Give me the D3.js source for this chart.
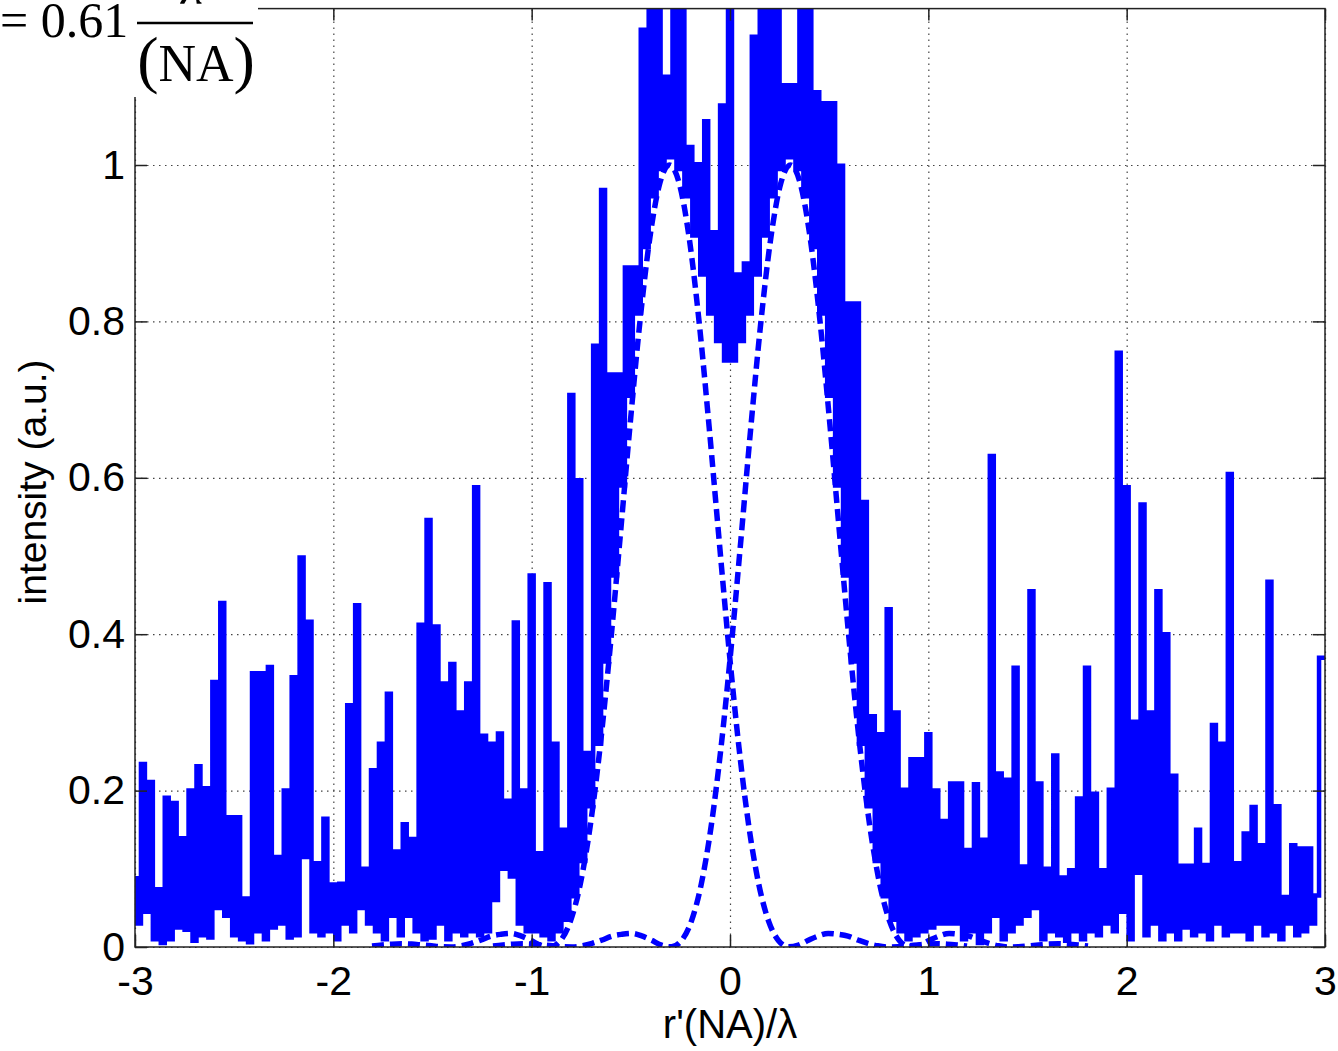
<!DOCTYPE html>
<html>
<head>
<meta charset="utf-8">
<script src="https://cdn.jsdelivr.net/npm/d3@7"></script>
<style>
  body { margin: 0; background: #fff; }
  svg { display: block; }
  .tick text { font-family: "Liberation Sans", Arial, sans-serif; fill: #000; }
</style>
</head>
<body>
<svg id="chart" width="1338" height="1051"></svg>
<script>
const xTicks = [-3, -2, -1, 0, 1, 2, 3];
const yTicks = [0, 0.2, 0.4, 0.6, 0.8, 1];

// measured intensity: local maxima every 0.04 from x = -3, minima halfway between
const peakVals = [
  0.088, 0.234, 0.211, 0.074, 0.191, 0.184, 0.139, 0.2, 0.231, 0.203,
  0.339, 0.44, 0.166, 0.166, 0.062, 0.35, 0.35, 0.358, 0.115, 0.2,
  0.345, 0.498, 0.416, 0.107, 0.164, 0.08, 0.081, 0.309, 0.437, 0.1,
  0.226, 0.26, 0.324, 0.122, 0.157, 0.138, 0.412, 0.546, 0.41, 0.337,
  0.362, 0.3, 0.337, 0.588, 0.27, 0.26, 0.273, 0.187, 0.415, 0.2,
  0.475, 0.12, 0.464, 0.26, 0.15, 0.706, 0.597, 0.248, 0.769, 0.968,
  0.732, 0.732, 0.869, 0.869, 1.173, 1.25, 1.25, 1.113, 1.25, 1.25,
  1.023, 1.001, 1.056, 0.914, 1.076, 1.25, 0.86, 0.874, 1.164, 1.25,
  1.25, 1.25, 1.102, 1.102, 1.25, 1.25, 1.093, 1.079, 1.079, 0.999,
  0.823, 0.823, 0.569, 0.295, 0.272, 0.432, 0.3, 0.201, 0.24, 0.24,
  0.272, 0.2, 0.161, 0.209, 0.209, 0.124, 0.208, 0.137, 0.628, 0.222,
  0.214, 0.357, 0.103, 0.455, 0.209, 0.1, 0.245, 0.089, 0.098, 0.19,
  0.357, 0.196, 0.098, 0.201, 0.76, 0.588, 0.288, 0.566, 0.3, 0.455,
  0.40, 0.219, 0.104, 0.104, 0.15, 0.105, 0.284, 0.26, 0.605, 0.107,
  0.145, 0.179, 0.13, 0.467, 0.18, 0.064, 0.13, 0.126, 0.126, 0.066,
  0.37
];
const troughVals = [
  0.03, 0.045, 0.01, 0.005, 0.01, 0.025, 0.022, 0.008, 0.015, 0.012,
  0.05, 0.04, 0.015, 0.01, 0.006, 0.02, 0.01, 0.025, 0.03, 0.012,
  0.015, 0.115, 0.02, 0.015, 0.02, 0.01, 0.03, 0.02, 0.05, 0.03,
  0.02, 0.01, 0.04, 0.015, 0.04, 0.02, 0.01, 0.012, 0.03, 0.01,
  0.02, 0.015, 0.02, 0.015, 0.02, 0.06, 0.1, 0.09, 0.03, 0.02,
  0.02, 0.015, 0.01, 0.02, 0.035, 0.065, 0.11, 0.18, 0.26, 0.365,
  0.475, 0.59, 0.705, 0.81, 0.895, 0.96, 0.995, 1.01, 0.995, 0.96,
  0.91, 0.86, 0.81, 0.775, 0.75, 0.75, 0.775, 0.81, 0.86, 0.91,
  0.96, 0.995, 1.01, 0.995, 0.96, 0.895, 0.81, 0.705, 0.59, 0.475,
  0.365, 0.26, 0.18, 0.11, 0.065, 0.035, 0.02, 0.01, 0.015, 0.02,
  0.025, 0.03, 0.03, 0.03, 0.01, 0.02, 0.005, 0.02, 0.04, 0.01,
  0.02, 0.03, 0.04, 0.05, 0.01, 0.02, 0.015, 0.008, 0.02, 0.01,
  0.02, 0.015, 0.03, 0.02, 0.045, 0.01, 0.095, 0.015, 0.03, 0.01,
  0.02, 0.01, 0.025, 0.015, 0.02, 0.01, 0.03, 0.015, 0.02, 0.02,
  0.01, 0.03, 0.015, 0.02, 0.01, 0.03, 0.015, 0.02, 0.03, 0.37
];

// Airy profile of one point image, distance from centre in units of lambda/NA
const airyR = [
  0, 0.05, 0.1, 0.15, 0.2, 0.25, 0.3, 0.35, 0.4, 0.45, 0.5,
  0.55, 0.6, 0.65, 0.7, 0.75, 0.8, 0.85, 0.9, 0.95, 1.0,
  1.05, 1.1, 1.15, 1.2, 1.25, 1.3, 1.35, 1.4, 1.45, 1.5
];
const airyI = [
  1, 0.9756, 0.9053, 0.7975, 0.6645, 0.5209, 0.3807, 0.2558, 0.1544, 0.0803, 0.0328,
  0.0081, 0.0002, 0.0023, 0.0086, 0.0141, 0.0173, 0.0162, 0.0139, 0.009, 0.0046,
  0.0015, 0.0001, 0.0003, 0.0015, 0.0026, 0.0037, 0.0041, 0.0036, 0.0026, 0.0013
];
const airyCenters = [-0.305, 0.305];

const width = 1338, height = 1051;
const plot = { left: 135, right: 1325, top: 8.6, bottom: 947 };
const blue = '#0000ff';
const font = '"Liberation Sans", Arial, sans-serif';

const svg = d3.select('#chart');
const x = d3.scaleLinear().domain([-3, 3]).range([plot.left, plot.right]);
const y = d3.scaleLinear().domain([0, 1.2]).range([plot.bottom, plot.top]);

// dotted grid
svg.append('g')
  .attr('transform', `translate(0,${plot.bottom})`)
  .call(d3.axisBottom(x).tickValues(xTicks).tickSize(-(plot.bottom - plot.top)).tickFormat(''))
  .call(g => g.select('.domain').remove())
  .call(g => g.selectAll('line').attr('stroke', '#444').attr('stroke-width', 1.2).attr('stroke-dasharray', '1.5,4.5'));
svg.append('g')
  .attr('transform', `translate(${plot.left},0)`)
  .call(d3.axisLeft(y).tickValues(yTicks).tickSize(-(plot.right - plot.left)).tickFormat(''))
  .call(g => g.select('.domain').remove())
  .call(g => g.selectAll('line').attr('stroke', '#444').attr('stroke-width', 1.2).attr('stroke-dasharray', '1.5,4.5'));

svg.append('clipPath').attr('id', 'plotclip')
  .append('rect')
  .attr('x', plot.left).attr('y', plot.top)
  .attr('width', plot.right - plot.left + 1).attr('height', plot.bottom - plot.top);

// noisy measurement
const measured = [];
peakVals.forEach((v, k) => {
  measured.push({ x: -3 + 0.04 * k, y: v });
  if (k < troughVals.length) measured.push({ x: -2.98 + 0.04 * k, y: troughVals[k] });
});

const stepLine = d3.line().x(d => x(d.x)).y(d => y(d.y)).curve(d3.curveStep);
svg.append('path')
  .datum(measured)
  .attr('clip-path', 'url(#plotclip)')
  .attr('d', stepLine)
  .attr('fill', 'none')
  .attr('stroke', blue)
  .attr('stroke-width', 4.5)
  .attr('stroke-linejoin', 'miter');

// the two Airy patterns, dashed
const smooth = d3.line().x(d => x(d.x)).y(d => y(d.y)).curve(d3.curveMonotoneX);
airyCenters.forEach(c => {
  const pts = [];
  for (let i = airyR.length - 1; i > 0; i--) pts.push({ x: c - airyR[i], y: airyI[i] });
  airyR.forEach((r, i) => pts.push({ x: c + r, y: airyI[i] }));
  svg.append('path')
    .datum(pts)
    .attr('clip-path', 'url(#plotclip)')
    .attr('d', smooth)
    .attr('fill', 'none')
    .attr('stroke', blue)
    .attr('stroke-width', 5.5)
    .attr('stroke-dasharray', '12,6');
});

// ticks (inside) and labels
const tickFmt = d => String(d);
svg.append('g')
  .attr('transform', `translate(0,${plot.bottom})`)
  .call(d3.axisBottom(x).tickValues(xTicks).tickSize(-12).tickPadding(19).tickFormat(tickFmt))
  .call(g => g.select('.domain').remove())
  .call(g => g.selectAll('text').attr('font-size', 41).attr('font-family', font));
svg.append('g')
  .attr('transform', `translate(0,${plot.top})`)
  .call(d3.axisTop(x).tickValues(xTicks).tickSize(-12).tickFormat(''))
  .call(g => g.select('.domain').remove());
svg.append('g')
  .attr('transform', `translate(${plot.left},0)`)
  .call(d3.axisLeft(y).tickValues(yTicks).tickSize(-12).tickPadding(10).tickFormat(tickFmt))
  .call(g => g.select('.domain').remove())
  .call(g => g.selectAll('text').attr('font-size', 41).attr('font-family', font));
svg.append('g')
  .attr('transform', `translate(${plot.right},0)`)
  .call(d3.axisRight(y).tickValues(yTicks).tickSize(-12).tickFormat(''))
  .call(g => g.select('.domain').remove());
svg.selectAll('.tick line').filter(function () { return !this.getAttribute('stroke-dasharray'); })
  .attr('stroke', '#222').attr('stroke-width', 1.5);

// frame
svg.append('rect')
  .attr('x', plot.left).attr('y', plot.top)
  .attr('width', plot.right - plot.left).attr('height', plot.bottom - plot.top)
  .attr('fill', 'none').attr('stroke', '#222').attr('stroke-width', 1.5);

// axis titles
svg.append('text')
  .attr('x', 730).attr('y', 1038)
  .attr('text-anchor', 'middle')
  .attr('font-family', font).attr('font-size', 40)
  .text("r'(NA)/λ");
svg.append('text')
  .attr('transform', 'translate(46,482) rotate(-90)')
  .attr('text-anchor', 'middle')
  .attr('font-family', font).attr('font-size', 39)
  .text('intensity (a.u.)');

// cropped Rayleigh formula pasted over the top-left corner
const formula = svg.append('g');
formula.append('rect').attr('x', 0).attr('y', 0).attr('width', 258).attr('height', 97).attr('fill', '#fff');
formula.append('text')
  .attr('x', 0).attr('y', 37)
  .attr('font-family', '"Liberation Serif", "Times New Roman", serif').attr('font-size', 50)
  .text('= 0.61');
formula.append('text')
  .attr('x', 192).attr('y', 4)
  .attr('text-anchor', 'middle')
  .attr('font-family', '"Liberation Serif", "Times New Roman", serif').attr('font-size', 50)
  .attr('font-style', 'italic')
  .text('λ');
formula.append('line')
  .attr('x1', 137).attr('x2', 253).attr('y1', 23).attr('y2', 23)
  .attr('stroke', '#000').attr('stroke-width', 2.5);
const den = formula.append('text')
  .attr('x', 196).attr('y', 81)
  .attr('text-anchor', 'middle')
  .attr('font-family', '"Liberation Serif", "Times New Roman", serif').attr('font-size', 52);
den.append('tspan').attr('font-size', 64).text('(');
den.append('tspan').text('NA');
den.append('tspan').attr('font-size', 64).text(')');
</script>
</body>
</html>
